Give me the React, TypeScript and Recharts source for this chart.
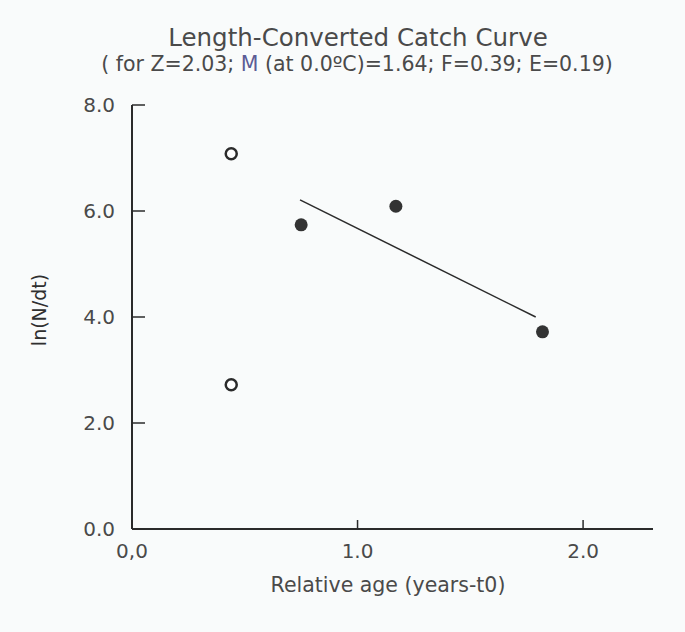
import { ComposedChart, Scatter, XAxis, YAxis } from "recharts";

// relative age (years - t0) vs ln(N/dt)
const excludedAge = [0.44, 0.44];
const excludedLnN = [7.08, 2.72];
const usedAge = [0.75, 1.17, 1.82];
const usedLnN = [5.74, 6.09, 3.72];
const fitAge = [0.745, 1.79];
const fitLnN = [6.21, 4.0];

const xTicks = [0, 1, 2];
const xTickLabels = ["0,0", "1.0", "2.0"];
const yTicks = [0, 2, 4, 6, 8];
const yTickLabels = ["0.0", "2.0", "4.0", "6.0", "8.0"];

const excluded = excludedAge.map((x, i) => ({ x, y: excludedLnN[i] }));
const used = usedAge.map((x, i) => ({ x, y: usedLnN[i] }));
const fit = fitAge.map((x, i) => ({ x, y: fitLnN[i] }));

const FONT = "'DejaVu Sans', sans-serif";
const INK = "#2b2b2b";
const TEXT = "#4a4a4a";

const OpenDot = (p: any) => <circle cx={p.cx} cy={p.cy} r={5.5} fill="#fff" stroke={INK} strokeWidth={2.5} />;
const FilledDot = (p: any) => <circle cx={p.cx} cy={p.cy} r={6.5} fill="#333" />;
const NoDot = () => <g />;

const YTick = (p: any) => {
  const i = yTicks.indexOf(p.payload.value);
  return (
    <g>
      <line x1={p.x} x2={p.x + 13} y1={p.y} y2={p.y} stroke={INK} strokeWidth={1.5} />
      <text x={p.x - 17} y={p.y + 7} textAnchor="end" fontFamily={FONT} fontSize={20} fill={TEXT}>{yTickLabels[i]}</text>
    </g>
  );
};

const XTick = (p: any) => {
  const i = xTicks.indexOf(p.payload.value);
  return (
    <g>
      <line x1={p.x} x2={p.x} y1={p.y} y2={p.y - 9} stroke={INK} strokeWidth={1.5} />
      <text x={p.x} y={p.y + 29} textAnchor="middle" fontFamily={FONT} fontSize={20} fill={TEXT}>{xTickLabels[i]}</text>
    </g>
  );
};

export default function App() {
  return (
    <div style={{ position: "absolute", left: 0, top: 0, width: 685, height: 632, background: "#f9fbfb" }}>
      <ComposedChart width={685} height={632} margin={{ top: 105, right: 32, bottom: 63, left: 72 }}>
        <XAxis type="number" dataKey="x" domain={[0, 2.31]} ticks={xTicks} height={40}
          tickSize={0} tickMargin={0} tickLine={false} tick={XTick} axisLine={{ stroke: INK, strokeWidth: 2 }} />
        <YAxis type="number" dataKey="y" domain={[0, 8]} ticks={yTicks} width={60}
          tickSize={0} tickMargin={0} tickLine={false} tick={YTick} axisLine={{ stroke: INK, strokeWidth: 2 }} />
        <Scatter data={fit} line={{ stroke: INK, strokeWidth: 1.5 }} shape={NoDot} isAnimationActive={false} />
        <Scatter data={excluded} shape={OpenDot} isAnimationActive={false} />
        <Scatter data={used} shape={FilledDot} isAnimationActive={false} />
      </ComposedChart>
      <svg width={685} height={632} style={{ position: "absolute", left: 0, top: 0, pointerEvents: "none" }}>
        <text x={358} y={46} textAnchor="middle" fontFamily={FONT} fontSize={24.5} fill={TEXT}>Length-Converted Catch Curve</text>
        <text x={357} y={71} textAnchor="middle" fontFamily={FONT} fontSize={20.5} fill={TEXT}>
          ( for Z=2.03; <tspan fill="#5c5c96">M</tspan> (at 0.0ºC)=1.64; F=0.39; E=0.19)
        </text>
        <text x={46} y={310} transform="rotate(-90 46 310)" textAnchor="middle" fontFamily={FONT} fontSize={19} fill="#2f2f2f">ln(N/dt)</text>
        <text x={388} y={592} textAnchor="middle" fontFamily={FONT} fontSize={20.5} fill={TEXT}>Relative age (years-t0)</text>
      </svg>
    </div>
  );
}
